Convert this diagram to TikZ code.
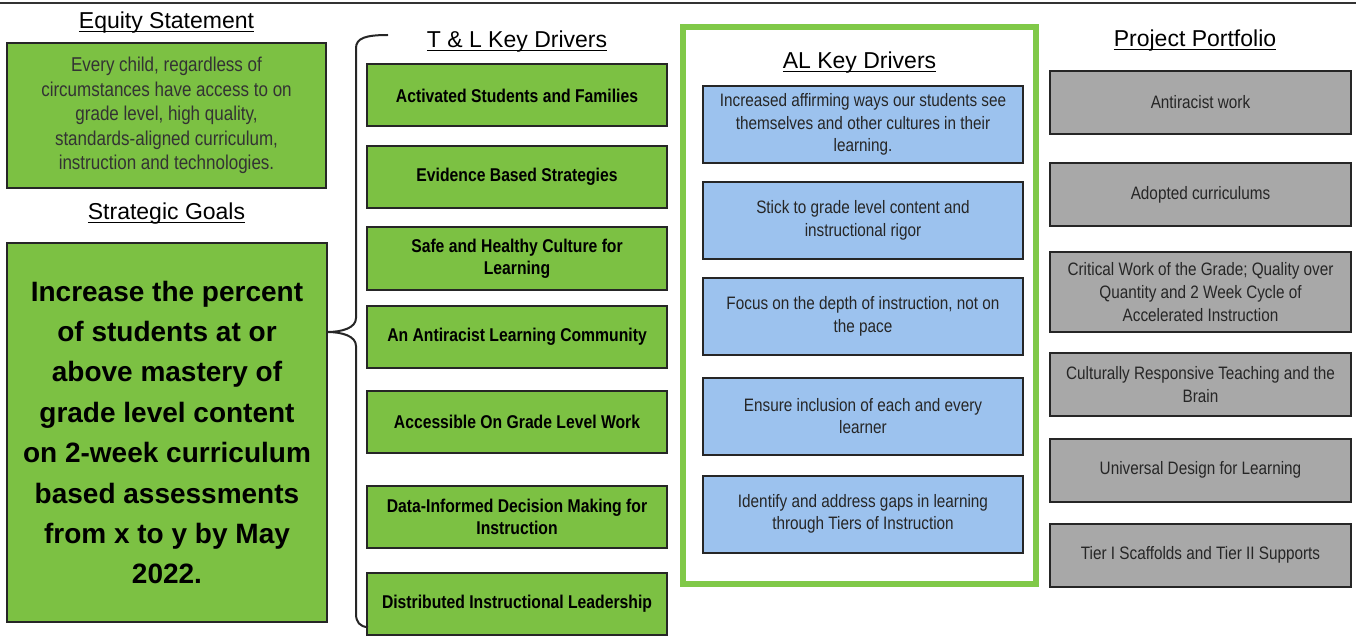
\documentclass[tikz,border=0pt]{standalone}
\usepackage{fontspec}
\setmainfont{Liberation Sans}
\newfontfamily\narrowfont[FakeStretch=0.85]{Liberation Sans}
\usetikzlibrary{positioning}
\definecolor{keygreen}{RGB}{124,193,67}
\definecolor{framegreen}{RGB}{128,201,72}
\definecolor{alblue}{RGB}{156,194,238}
\definecolor{portgrey}{RGB}{168,168,168}
\newcommand{\headrule}[1]{\setbox0\hbox{#1}\rlap{\rule[-3.5pt]{\wd0}{1.3pt}}\box0}
\tikzstyle{head}=[anchor=base, inner sep=0pt, font=\fontsize{23}{27}\selectfont]
\tikzstyle{greenbox}=[draw=black!85, line width=2pt, fill=keygreen, align=center, inner sep=0pt]
\tikzstyle{statement}=[greenbox, minimum width=319pt, minimum height=145pt, text=black!80, font=\narrowfont\fontsize{20}{24.5}\selectfont]
\tikzstyle{goalbox}=[greenbox, minimum width=320pt, minimum height=379pt, font=\bfseries\fontsize{28}{40.4}\selectfont]
\tikzstyle{driver}=[greenbox, minimum width=300pt, minimum height=62pt, font=\narrowfont\bfseries\fontsize{18.5}{22}\selectfont]
\tikzstyle{alkey}=[draw=black!85, line width=2pt, fill=alblue, align=center, minimum width=320pt, minimum height=77pt, text=black!85, font=\narrowfont\fontsize{18}{22.5}\selectfont]
\tikzstyle{project}=[draw=black!85, line width=2pt, fill=portgrey, align=center, minimum width=301pt, minimum height=63pt, text=black!85, font=\narrowfont\fontsize{18}{23}\selectfont]

\begin{document}
\begin{tikzpicture}[x=1pt, y=-1pt]
    \useasboundingbox (0,0) rectangle (1356,636);
    \draw[line width=2pt, black!80] (0,3) -- (1356,3);

    % left column
    \node [head] (eqhead) at (166.5,29) {\headrule{Equity Statement}};
    \node [statement] (equity) at (166.5,115.5) {Every child, regardless of\\circumstances have access to on\\grade level, high quality,\\standards-aligned curriculum,\\instruction and technologies.};
    \node [head] (goalhead) at (166.5,220) {\headrule{Strategic Goals}};
    \node [goalbox] (goal) at (167,432.5) {Increase the percent\\of students at or\\above mastery of\\grade level content\\on 2-week curriculum\\based assessments\\from x to y by May\\2022.};

    % T & L drivers
    \node [head] (tlhead) at (517,48) {\headrule{T \& L Key Drivers}};
    \node [driver] (tl1) at (517,95.5) {Activated Students and Families};
    \node [driver, below of=tl1, node distance=81.5pt] (tl2) {Evidence Based Strategies};
    \node [driver, below of=tl2, node distance=81.5pt] (tl3) {Safe and Healthy Culture for\\Learning};
    \node [driver, below of=tl3, node distance=78.5pt] (tl4) {An Antiracist Learning Community};
    \node [driver, below of=tl4, node distance=84.5pt] (tl5) {Accessible On Grade Level Work};
    \node [driver, below of=tl5, node distance=95.5pt] (tl6) {Data-Informed Decision Making for\\Instruction};
    \node [driver, below of=tl6, node distance=86.5pt] (tl7) {Distributed Instructional Leadership};

    % brace from the goal to the drivers
    \coordinate (btop) at (388,35);
    \coordinate (btip) at (327,332);
    \coordinate (bbot) at (368,627);
    \draw[line width=2pt, black!85] (btop) .. controls (366,35) and (356,38) .. (356,48) -- (356,318)
        .. controls (356,328) and (342,332) .. (btip)
        .. controls (342,332) and (356,336) .. (356,346) -- (356,614)
        .. controls (356,622) and (360,627) .. (bbot);

    % AL drivers
    \node [draw=framegreen, line width=6pt, minimum width=353pt, minimum height=557pt] (frame) at (859.5,305.5) {};
    \node [head] (alhead) at (859.5,69) {\headrule{AL Key Drivers}};
    \node [alkey] (al1) at (863,124.5) {Increased affirming ways our students see\\themselves and other cultures in their\\learning.};
    \node [alkey, below of=al1, node distance=96pt] (al2) {Stick to grade level content and\\instructional rigor};
    \node [alkey, below of=al2, node distance=96pt] (al3) {Focus on the depth of instruction, not on\\the pace};
    \node [alkey, below of=al3, node distance=99.5pt] (al4) {Ensure inclusion of each and every\\learner};
    \node [alkey, below of=al4, node distance=98pt] (al5) {Identify and address gaps in learning\\through Tiers of Instruction};

    % project portfolio
    \node [head] (pphead) at (1195,47) {\headrule{Project Portfolio}};
    \node [project] (pp1) at (1200.5,102.5) {Antiracist work};
    \node [project, below of=pp1, node distance=92.5pt] (pp2) {Adopted curriculums};
    \node [project, below of=pp2, node distance=97pt, minimum height=80pt] (pp3) {Critical Work of the Grade; Quality over\\Quantity and 2 Week Cycle of\\Accelerated Instruction};
    \node [project, below of=pp3, node distance=92.5pt] (pp4) {Culturally Responsive Teaching and the\\Brain};
    \node [project, below of=pp4, node distance=85.5pt] (pp5) {Universal Design for Learning};
    \node [project, below of=pp5, node distance=85pt] (pp6) {Tier I Scaffolds and Tier II Supports};
\end{tikzpicture}
\end{document}
